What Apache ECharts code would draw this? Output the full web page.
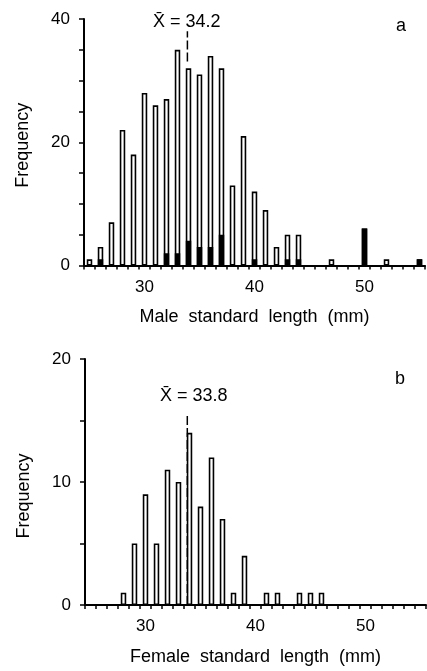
<!DOCTYPE html>
<html><head><meta charset="utf-8">
<script src="https://cdn.jsdelivr.net/npm/echarts@6/dist/echarts.min.js"></script>
<style>html,body{margin:0;padding:0;background:#fff}#c{width:427px;height:671px}</style>
</head><body><div id="c"></div>
<script>
// Length classes (mm)
const lengths = [25,26,27,28,29,30,31,32,33,34,35,36,37,38,39,40,41,42,43,44,45,46,47,48,49,50,51,52,53,54,55];
// Male frequency (total, hollow bars)
const maleTotal = [1,3,7,22,18,28,26,27,35,32,31,34,32,13,21,12,9,3,5,5,0,0,1,0,0,6,0,1,0,0,1];
// Male frequency, filled (black) part
const maleBlack = [0,1,0,0,0,0,0,2,2,4,3,3,5,0,0,1,0,0,1,1,0,0,0,0,0,6,0,0,0,0,1];
// Female frequency
const femaleTotal = [0,0,0,1,5,9,5,11,10,14,8,12,7,1,4,0,1,1,0,1,1,1,0,0,0,0,0,0,0,0,0];
// Means
const maleMean = 34.2, femaleMean = 33.8;
const maleMeanMarker = [[33.9, 33.1], [33.9, 38.0]];
const femaleMeanMarker = [[33.8, 0], [33.8, 15.6]];
const xTickLabels = ['30','40','50'];

const FONT = 'Liberation Sans';
const chart = echarts.init(document.getElementById('c'), null, {renderer:'canvas'});
const cats = lengths.map(String);
const nz = arr => arr.map(v => v === 0 ? null : v);
function catAxis(gi, name, nameGap){
  return {type:'category', gridIndex:gi, data:cats, boundaryGap:true,
    axisLine:{lineStyle:{color:'#000', width:2}},
    axisTick:{show:true, interval:0, length:4, lineStyle:{color:'#000', width:1.5}},
    axisLabel:{interval:0, margin:13, color:'#000', fontFamily:FONT, fontSize:17,
      formatter:v=> xTickLabels.includes(v)? v : ''},
    name:name, nameLocation:'middle', nameGap:nameGap,
    nameTextStyle:{fontFamily:FONT, fontSize:18, color:'#000'}};
}
function valAxis(gi){
  return {type:'value', gridIndex:gi, min:24.5, max:55.5, show:false};
}
function yAxis(gi, max, lab, pad){
  return {type:'value', gridIndex:gi, min:0, max:max, interval:5,
    splitLine:{show:false},
    axisLine:{show:true, lineStyle:{color:'#000', width:2}},
    axisTick:{show:true, length:5, lineStyle:{color:'#000', width:1.5}},
    axisLabel:{margin:14, color:'#000', fontFamily:FONT, fontSize:17,
      formatter:v=> (v % lab === 0) ? String(v) : ''},
    name:'Frequency', nameLocation:'middle', nameGap:52, nameRotate:90,
    nameTextStyle:{fontFamily:FONT, fontSize:18, color:'#000', padding:pad}};
}
const hollow = {color:'#fff', borderColor:'#000', borderWidth:1.6};
chart.setOption({
  animation:false,
  grid:[
    {left:84, top:19, width:341, height:246.5},
    {left:85, top:359, width:341, height:246}
  ],
  xAxis:[
    catAxis(0, 'Male  standard  length  (mm)', 43),
    valAxis(0),
    catAxis(1, 'Female  standard  length  (mm)', 43),
    valAxis(1)
  ],
  yAxis:[ yAxis(0, 40, 20, [0,6,0,0]), yAxis(1, 20, 10, [0,28,0,0]) ],
  series:[
    {type:'bar', xAxisIndex:0, yAxisIndex:0, data:nz(maleTotal), barWidth:5.5, barGap:'-100%', itemStyle:hollow},
    {type:'bar', xAxisIndex:0, yAxisIndex:0, data:nz(maleBlack), barWidth:5.5, barGap:'-100%', itemStyle:{color:'#000', borderColor:'#000', borderWidth:1.6}},
    {type:'line', xAxisIndex:1, yAxisIndex:0, data:maleMeanMarker, symbol:'none',
      lineStyle:{color:'#000', width:1.5, type:[9,3]}},
    {type:'bar', xAxisIndex:2, yAxisIndex:1, data:nz(femaleTotal), barWidth:5.5, itemStyle:hollow},
    {type:'line', xAxisIndex:3, yAxisIndex:1, data:femaleMeanMarker, symbol:'none', z:5,
      lineStyle:{color:'#000', width:1.5, type:[9,3]}}
  ],
  graphic:[
    {type:'text', left:153, top:13, style:{text:'X\u0304 = ' + maleMean.toFixed(1), font:'18px "Liberation Sans"', fill:'#000'}},
    {type:'text', left:160, top:387, style:{text:'X\u0304 = ' + femaleMean.toFixed(1), font:'18px "Liberation Sans"', fill:'#000'}},
    {type:'text', left:396, top:17, style:{text:'a', font:'18px "Liberation Sans"', fill:'#000'}},
    {type:'text', left:395, top:370, style:{text:'b', font:'18px "Liberation Sans"', fill:'#000'}}
  ]
});
</script></body></html>
